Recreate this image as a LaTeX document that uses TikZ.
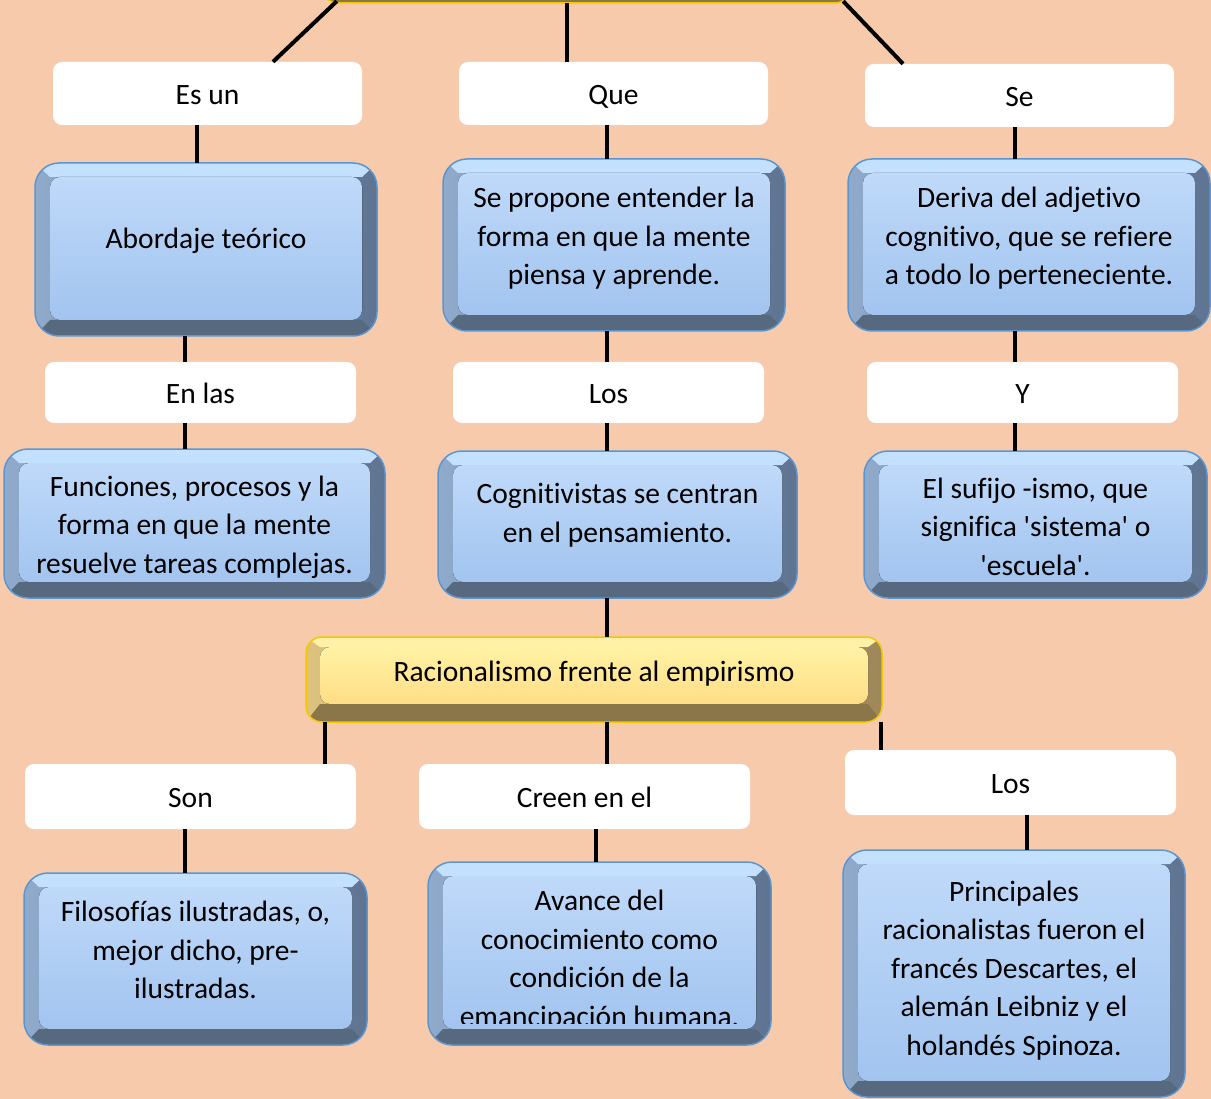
\documentclass[tikz,border=0pt]{standalone}
\usepackage{fontspec}
\setmainfont{Carlito}[Ligatures={TeX,NoCommon}]
\definecolor{bg}{HTML}{F6CAAB}
\definecolor{bT}{HTML}{C4E0FF}
\definecolor{bL}{HTML}{8FAACB}
\definecolor{bR}{HTML}{5F7491}
\definecolor{bB}{HTML}{56697F}
\definecolor{bF1}{HTML}{BFD9F9}
\definecolor{bF2}{HTML}{A2C4EF}
\definecolor{bE}{HTML}{5B96D2}
\definecolor{gT}{HTML}{FFF2A8}
\definecolor{gL}{HTML}{DDC27F}
\definecolor{gR}{HTML}{9E8759}
\definecolor{gB}{HTML}{8B764A}
\definecolor{gF1}{HTML}{FFF2A4}
\definecolor{gF2}{HTML}{FFDD86}
\definecolor{gE}{HTML}{F5C800}
\tikzset{
  txt/.style={font=\fontsize{29.5}{38.5}\selectfont, align=center, inner sep=0pt, text=black},
  boxshape/.style={rectangle, inner sep=0pt, draw=none},
  lab/.style={rectangle, fill=white, rounded corners=9pt, inner sep=0pt, text height=28.5pt, text depth=6pt,
    minimum width=310pt, minimum height=63pt, font=\fontsize{29.5}{38.5}\selectfont},
  conn/.style={line width=4pt, black},
}
\def\tcut{0}
\newcommand\bevbox[9]{%
 \begin{scope}
  \clip[rounded corners=#9] (#3,#4) rectangle (#5,#6);
  \fill[left color=#1L, right color=#1R] (#3,#4) rectangle (#5,#6);
  \fill[#1T] (#3,#4) -- (#5,#4) -- ({#5-\bs},{#4+\bt}) -- ({#3+\bs},{#4+\bt}) -- cycle;
  \fill[#1B] (#3,#6) -- (#5,#6) -- ({#5-\bs},{#6-\bb}) -- ({#3+\bs},{#6-\bb}) -- cycle;
 \end{scope}
 \fill[top color=#1F1, bottom color=#1F2, rounded corners=10pt] ({#3+\bs},{#4+\bt}) rectangle ({#5-\bs},{#6-\bb});
 \draw[#1E, line width=1.5pt, rounded corners=#9] (#3,#4) rectangle (#5,#6);
 \node[boxshape, minimum width={#5-#3}, minimum height={#6-#4}] (#2) at ({(#3+#5)/2},{(#4+#6)/2}) {};
 \begin{scope}
  \clip ({#3+\bs},{#4+\bt}) rectangle ({#5-\bs},{#6-\bb-\tcut});
  \node[txt] (#2t) at ([yshift=#7]#2.center) {#8};
 \end{scope}
}
\begin{document}
\begin{tikzpicture}[x=1pt,y=-1pt]
\useasboundingbox (0,0) rectangle (1211,1099);
\clip (0,0) rectangle (1211,1099);
\fill[bg] (0,0) rectangle (1211,1099);

% gold boxes
\def\bs{14}\def\bt{10}\def\bb{18}
\bevbox{g}{T}{322}{-82}{851}{3}{0}{}{16pt}
\bevbox{g}{G}{306}{637}{882}{722}{6}{Racionalismo frente al empirismo}{16pt}

% blue boxes
\def\bs{15}\def\bt{14}\def\bb{16}
\bevbox{b}{B1}{35}{163}{377}{336}{9}{Abordaje teórico}{24pt}
\bevbox{b}{B2}{443}{159}{785}{331}{6.5}{Se propone entender la\\forma en que la mente\\piensa y aprende.}{24pt}
\bevbox{b}{B3}{848}{159}{1210}{331}{6.5}{Deriva del adjetivo\\cognitivo, que se refiere\\a todo lo perteneciente.}{24pt}
\bevbox{b}{B4}{4}{449}{385}{598}{-3.5}{Funciones, procesos y la\\forma en que la mente\\resuelve tareas complejas.}{24pt}
\bevbox{b}{B5}{438}{451}{797}{598}{9.5}{Cognitivistas se centran\\en el pensamiento.}{24pt}
\bevbox{b}{B6}{864}{451}{1207}{598}{-2}{El sufijo -ismo, que\\significa \textquotesingle sistema\textquotesingle{} o\\\textquotesingle escuela\textquotesingle.}{24pt}
\bevbox{b}{B7}{24}{873}{367}{1045}{9}{Filosofías ilustradas, o,\\mejor dicho, pre-\\ilustradas.}{24pt}
\def\tcut{6}
\bevbox{b}{B8}{428}{862}{771}{1045}{-7}{Avance del\\conocimiento como\\condición de la\\emancipación humana.}{24pt}
\def\tcut{0}
\bevbox{b}{B9}{843}{850}{1185}{1097}{3}{Principales\\racionalistas fueron el\\francés Descartes, el\\alemán Leibniz y el\\holandés Spinoza.}{24pt}

% white labels
\node[lab, minimum width=309pt] (L1) at (207.5,93.5) {Es un};
\node[lab, minimum width=309pt] (L2) at (613.5,93.5) {Que};
\node[lab, minimum width=309pt] (L3) at (1019.5,95.5) {Se};
\node[lab, minimum width=311pt, minimum height=61pt] (L4) at (200.5,392.5) {En las};
\node[lab, minimum width=311pt, minimum height=61pt] (L5) at (608.5,392.5) {Los};
\node[lab, minimum width=311pt, minimum height=61pt] (L6) at (1022.5,392.5) {Y};
\node[lab, minimum width=331pt, minimum height=65pt] (L7) at (190.5,796.5) {Son};
\node[lab, minimum width=331pt, minimum height=65pt] (L8) at (584.5,796.5) {Creen en el};
\node[lab, minimum width=331pt, minimum height=65pt] (L9) at (1010.5,782.5) {Los};

% connector columns
\coordinate (x185) at (185,0);
\coordinate (x197) at (197,0);
\coordinate (x567) at (567,0);
\coordinate (x596) at (596,0);
\coordinate (x607) at (607,0);
\coordinate (x1015) at (1015,0);
\coordinate (x1027) at (1027,0);
\coordinate (x325) at (325,0);
\coordinate (x881) at (881,0);

% top connectors
\draw[conn] ([xshift=15pt,yshift=2pt]T.south west) -- ([xshift=65.5pt]L1.north);
\draw[conn] (T.south -| x567) -- (L2.north -| x567);
\draw[conn] ([xshift=-8pt,yshift=2pt]T.south east) -- ([xshift=-116.5pt]L3.north);

% columns
\draw[conn] (L1.south -| x197) -- (B1.north -| x197);
\draw[conn] (B1.south -| x185) -- (L4.north -| x185);
\draw[conn] (L4.south -| x185) -- (B4.north -| x185);
\draw[conn] (L2.south -| x607) -- (B2.north -| x607);
\draw[conn] (B2.south -| x607) -- (L5.north -| x607);
\draw[conn] (L5.south -| x607) -- (B5.north -| x607);
\draw[conn] (L3.south -| x1015) -- (B3.north -| x1015);
\draw[conn] (B3.south -| x1015) -- (L6.north -| x1015);
\draw[conn] (L6.south -| x1015) -- (B6.north -| x1015);
\draw[conn] (B5.south -| x607) -- (G.north -| x607);
\draw[conn] (G.south -| x325) -- (L7.north -| x325);
\draw[conn] (G.south -| x607) -- (L8.north -| x607);
\draw[conn] (G.south -| x881) -- (L9.north -| x881);
\draw[conn] (L7.south -| x185) -- (B7.north -| x185);
\draw[conn] (L8.south -| x596) -- (B8.north -| x596);
\draw[conn] (L9.south -| x1027) -- (B9.north -| x1027);
\end{tikzpicture}
\end{document}
